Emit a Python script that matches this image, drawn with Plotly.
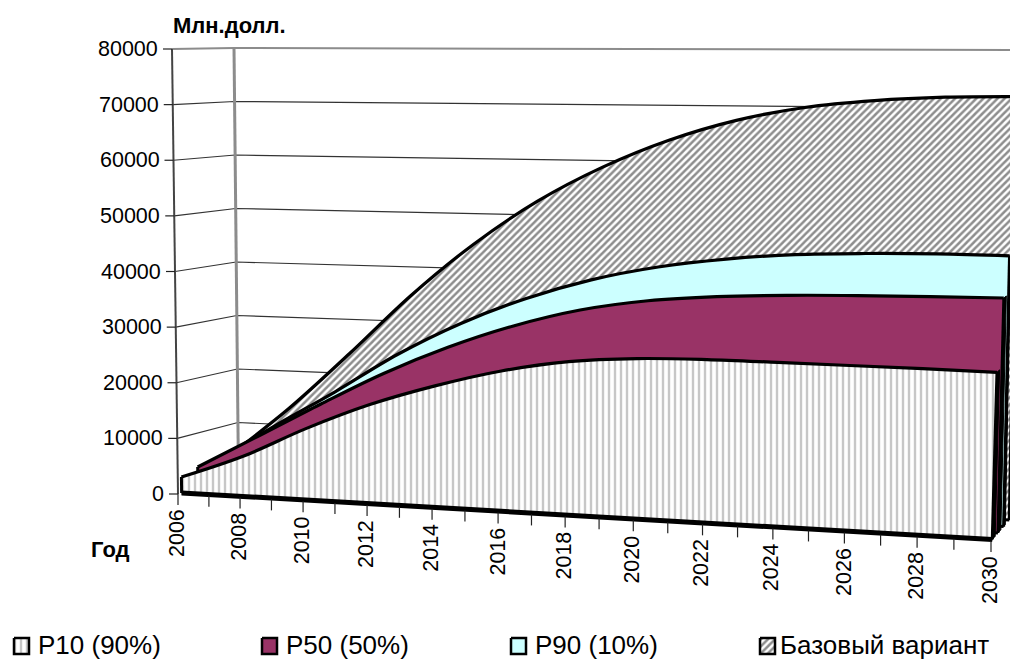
import plotly.graph_objects as go

years = list(range(2006, 2031, 2))
p10 = [2865, 7200, 12700, 17500, 21300, 24400, 26500, 27500, 27800, 27800, 27750, 27700, 27600]
p50 = [3840, 10030, 16300, 22300, 27400, 31600, 34800, 36800, 37900, 38500, 38850, 39050, 39200]
p90 = [3900, 11000, 17800, 25000, 31000, 35800, 39500, 42100, 43800, 44900, 45400, 45650, 45650]
base = [4400, 13570, 24070, 35070, 44700, 52700, 59000, 63950, 67600, 69970, 71270, 71970, 72170]
value_ticks = [0, 10000, 20000, 30000, 40000, 50000, 60000, 70000, 80000]
tick_years = list(range(2006, 2031))
label_years = list(range(2006, 2031, 2))
names = ["P10 (90%)", "P50 (50%)", "P90 (10%)", "Базовый вариант"]
y_title = "Млн.долл."
x_title = "Год"

# Projection of the 3D box (year, depth, value) on the page
Y0, Y1, VMAX = 2006, 2030, 80000
FLOOR = {"f0": (178, 494), "f1": (991, 541), "b0": (238.5, 476), "b1": (1012, 517)}
TOP = {"f0": (172, 49), "f1": (1005, 55), "b0": (234, 48), "b1": (1020, 50)}
PERSP = 1.1


def warp(year):
    t = (year - Y0) / (Y1 - Y0)
    return t / (PERSP - (PERSP - 1) * t)


def project(year, depth, value):
    f = warp(year)
    s = value / VMAX
    out = []
    for i in (0, 1):
        fl = (FLOOR["f0"][i] * (1 - f) + FLOOR["f1"][i] * f) * (1 - depth) + (FLOOR["b0"][i] * (1 - f) + FLOOR["b1"][i] * f) * depth
        tp = (TOP["f0"][i] * (1 - f) + TOP["f1"][i] * f) * (1 - depth) + (TOP["b0"][i] * (1 - f) + TOP["b1"][i] * f) * depth
        out.append(fl * (1 - s) + tp * s)
    return out


def path(points):
    xy = [project(*p) for p in points]
    return [q[0] for q in xy], [q[1] for q in xy]


fig = go.Figure()


def line(points, color="black", width=1.0, name=""):
    x, y = path(points)
    fig.add_trace(go.Scatter(x=x, y=y, mode="lines", line=dict(color=color, width=width), hoverinfo="skip", showlegend=False, name=name))


# Walls
for v in value_ticks[1:-1]:
    line([(Y0, 0, v), (Y0, 1, v), (Y1, 1, v)], "#333333", 1.2)
line([(Y0, 0, VMAX), (Y0, 1, VMAX), (Y1, 1, VMAX)], "#8c8c8c", 2)
line([(Y0, 1, 0), (Y0, 1, VMAX)], "#8c8c8c", 3)
line([(Y0, 0, 0), (Y0, 0, VMAX)], "#444444", 2)

PATTERNS = {
    0: dict(shape="|", size=6, solidity=0.4, fgcolor="#8f8f8f", bgcolor="white"),
    3: dict(shape="/", size=5, solidity=0.5, fgcolor="#1c1c1c", bgcolor="white"),
}
COLORS = {1: "#993366", 2: "#CCFFFF"}
SERIES = [(3, base, 0.87, 0.0), (2, p90, 0.60, 0.08), (1, p50, 0.33, 0.14), (0, p10, 0.06, 0.14)]

for idx, vals, d, side in SERIES:
    if side:
        x, y = path([(Y1, d, 0), (Y1, d + side, 0), (Y1, d + side, vals[-1]), (Y1, d, vals[-1]), (Y1, d, 0)])
        fig.add_trace(go.Scatter(x=x, y=y, mode="lines", fill="toself", fillcolor="black", line=dict(color="black", width=1), hoverinfo="skip", showlegend=False))
    # floor edge, then the value curve filled down to it
    line([(Y0, d, 0), (Y1, d, 0)], "black", 3)
    x, y = path([(yr, d, v) for yr, v in zip(years, vals)])
    kw = dict(fillpattern=PATTERNS[idx]) if idx in PATTERNS else dict(fillcolor=COLORS[idx])
    fig.add_trace(go.Scatter(x=x, y=y, mode="lines", fill="tonexty", line=dict(color="black", width=3.2, shape="spline", smoothing=1.0), hoverinfo="skip", name=names[idx], showlegend=False, **kw))
    line([(Y0, d, 0), (Y0, d, vals[0])], "black", 3)
    line([(Y1, d, 0), (Y1, d, vals[-1])], "black", 3)

line([(Y0, 0.06, 0), (Y1, 0.06, 0)], "black", 5)

# Category ticks and labels
for yr in tick_years:
    x0, y0 = project(yr, 0, 0)
    fig.add_trace(go.Scatter(x=[x0, x0], y=[y0, y0 + 11], mode="lines", line=dict(color="#222222", width=1.2), hoverinfo="skip", showlegend=False))

ann = []
for yr in label_years:
    x0, y0 = project(yr, 0, 0)
    ann.append(dict(x=x0 - 1, y=y0 + 13, text=str(yr), textangle=-90, xanchor="center", yanchor="top", showarrow=False, font=dict(size=21.5, color="black")))

# Value ticks and labels
for v in value_ticks:
    x0, y0 = project(Y0, 0, v)
    fig.add_trace(go.Scatter(x=[x0 - 9, x0], y=[y0, y0], mode="lines", line=dict(color="#222222", width=1.2), hoverinfo="skip", showlegend=False))
    ann.append(dict(x=x0 - 12, y=y0, text=str(v), xanchor="right", yanchor="middle", showarrow=False, font=dict(size=21.5, color="black")))

ann.append(dict(x=170.5, y=25, text="<b>%s</b>" % y_title, xanchor="left", yanchor="middle", showarrow=False, font=dict(size=22, color="black")))
ann.append(dict(x=88.5, y=549, text="<b>%s</b>" % x_title, xanchor="left", yanchor="middle", showarrow=False, font=dict(size=22, color="black")))

# Legend
KEYS = [(14, 38), (262, 286), (511, 535), (760, 780)]
for idx, (kx, tx) in enumerate(KEYS):
    kw = dict(fillpattern=PATTERNS[idx]) if idx in PATTERNS else dict(fillcolor=COLORS[idx])
    fig.add_trace(go.Scatter(x=[kx, kx + 15, kx + 15, kx, kx], y=[638, 638, 654, 654, 638], mode="lines", fill="toself", line=dict(color="black", width=2.5), hoverinfo="skip", showlegend=False, **kw))
    ann.append(dict(x=tx - 1, y=644.5, text=names[idx], xanchor="left", yanchor="middle", showarrow=False, borderpad=0, font=dict(size=26, color="black")))

fig.update_layout(
    width=1010, height=659, margin=dict(l=0, r=0, t=0, b=0), showlegend=False,
    paper_bgcolor="white", plot_bgcolor="white",
    font=dict(family="Liberation Sans, Arial, sans-serif"),
    xaxis=dict(range=[0, 1010], visible=False, fixedrange=True),
    yaxis=dict(range=[659, 0], visible=False, fixedrange=True),
    annotations=ann,
)
fig.write_html("out.html", post_script="document.body.style.margin='0';", config=dict(displayModeBar=False))
